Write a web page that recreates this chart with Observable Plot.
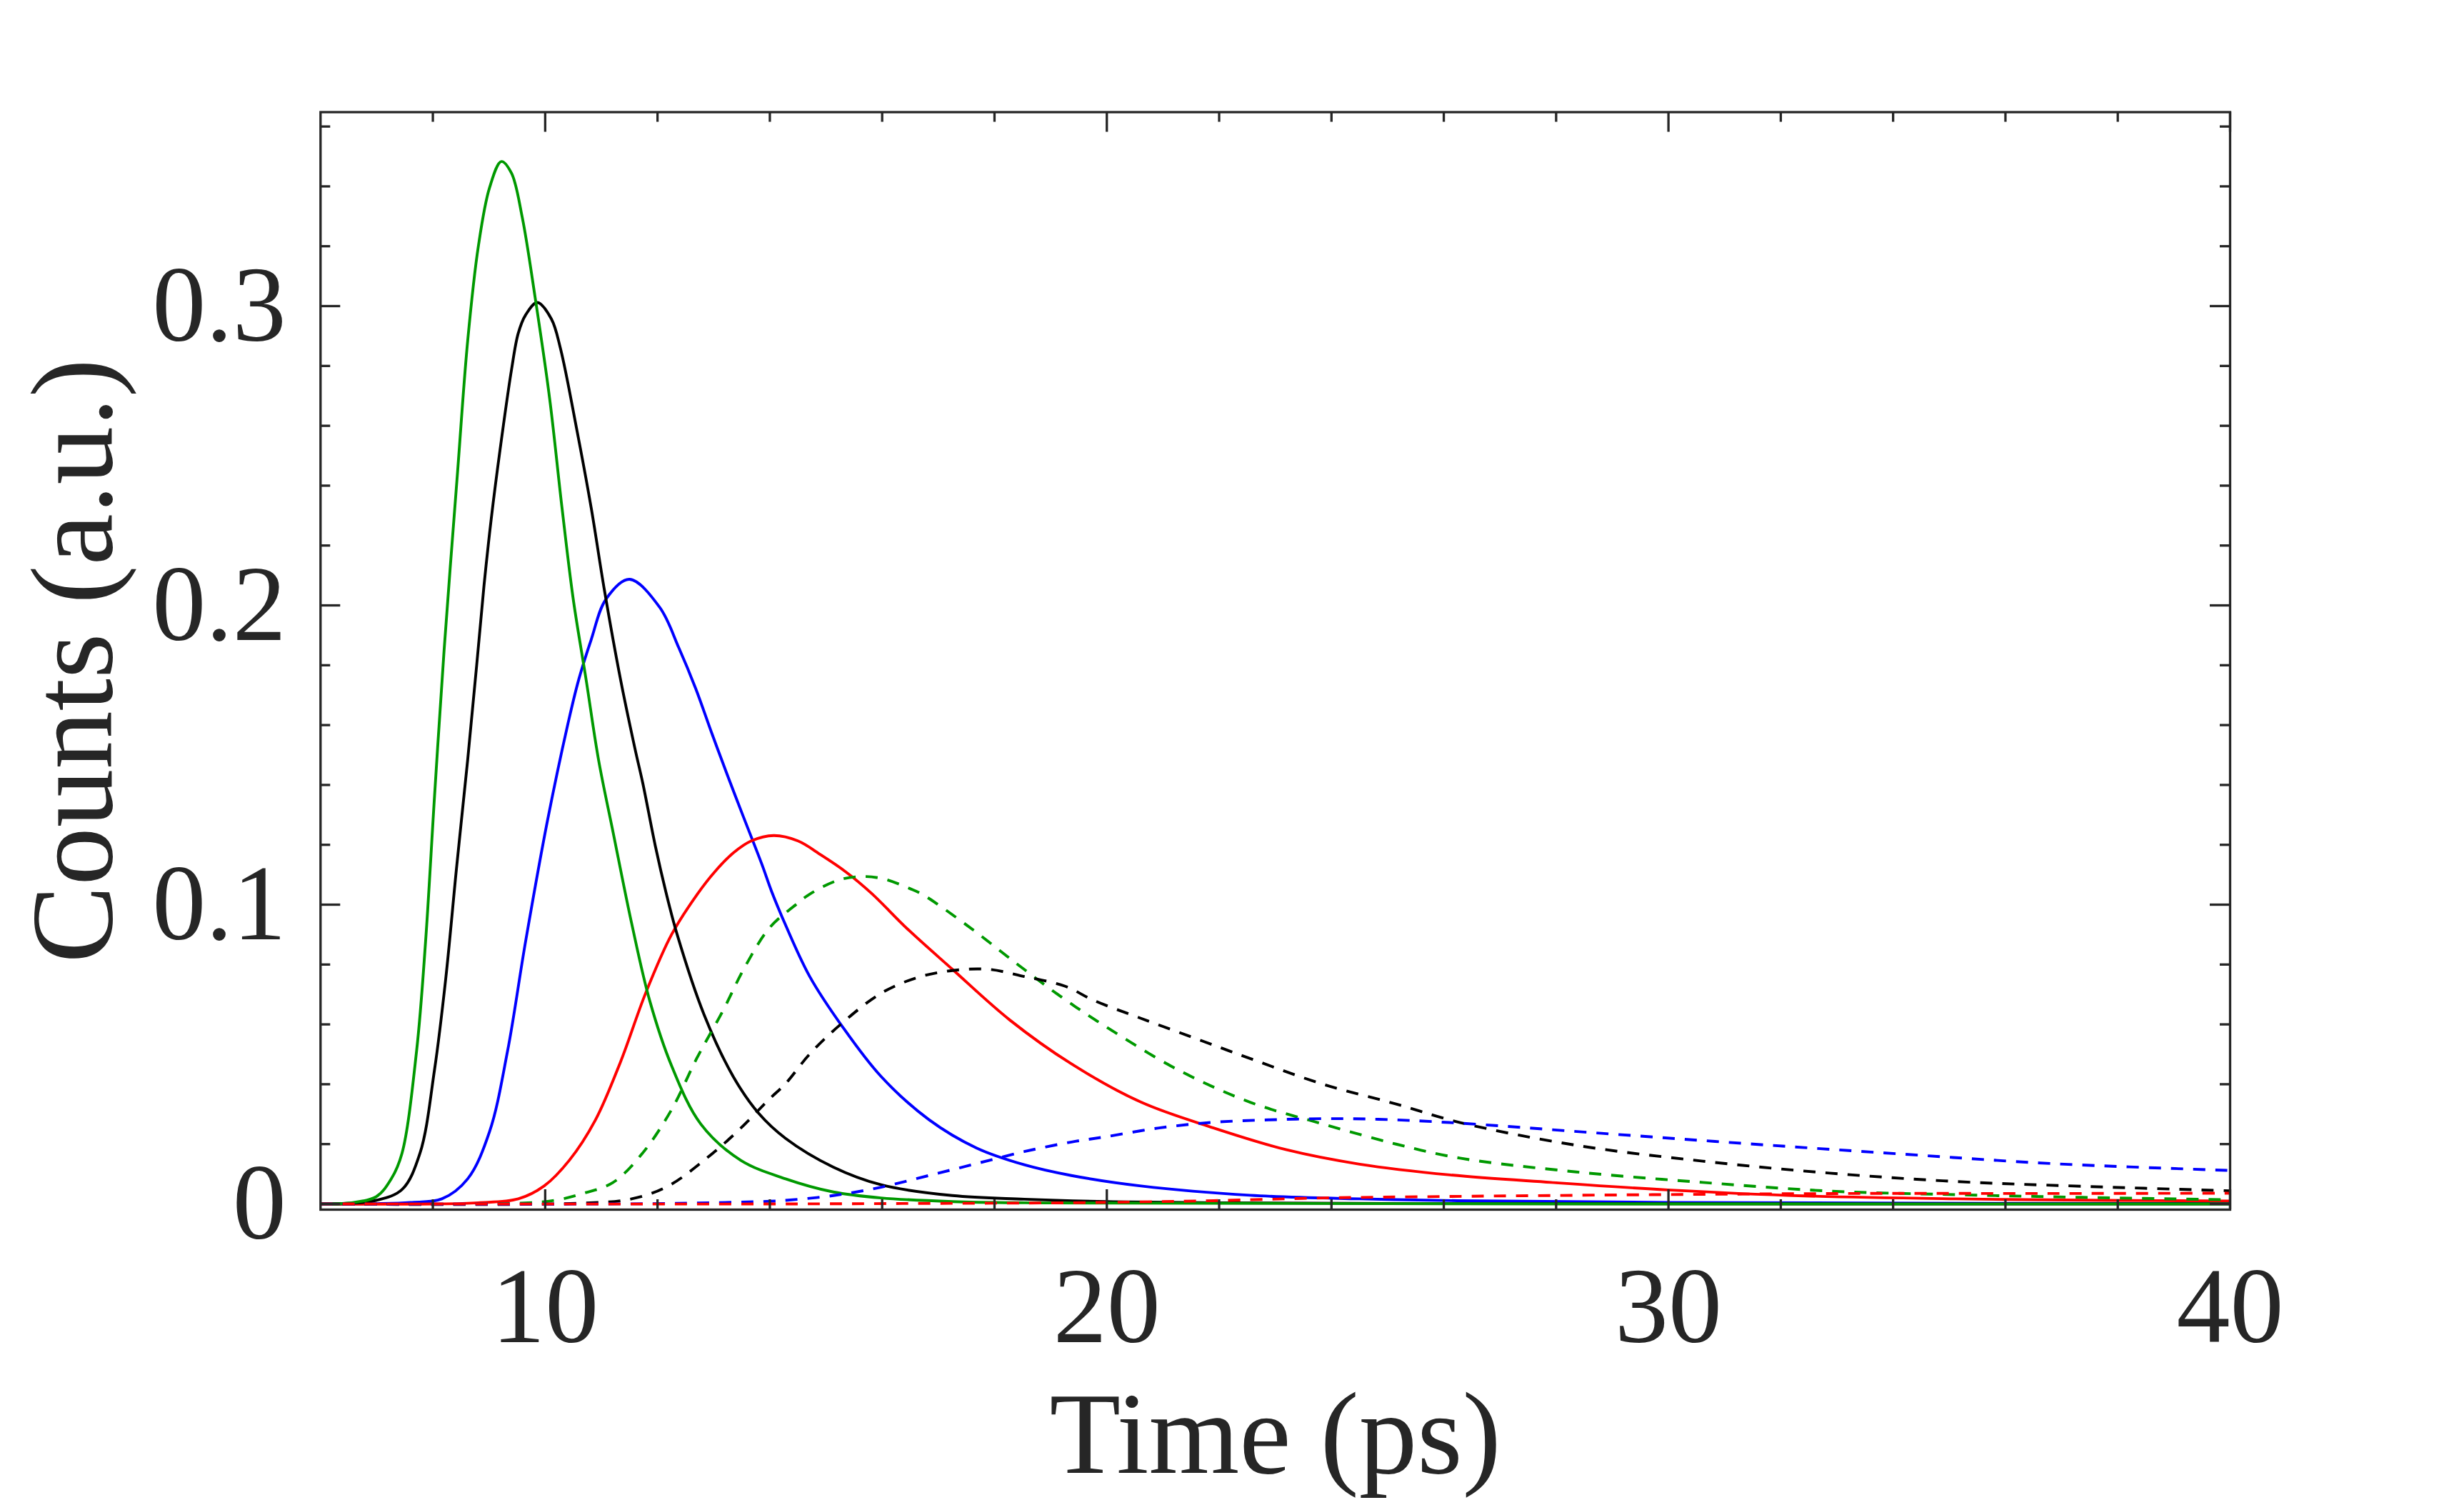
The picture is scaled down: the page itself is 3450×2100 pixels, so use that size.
<!DOCTYPE html>
<html>
<head>
<meta charset="utf-8">
<script src="https://cdn.jsdelivr.net/npm/d3@7"></script>
<script src="https://cdn.jsdelivr.net/npm/@observablehq/plot@0.6"></script>
<style>
html, body { margin: 0; padding: 0; background: #fff; }
#chart svg { display: block; }
</style>
</head>
<body>
<div id="chart"></div>
<script>
// ---- data ----
const greenSolidT = [6, 6.5, 6.99, 7.26, 7.45, 7.71, 7.87, 8.03, 8.2, 8.44, 8.62, 8.81, 9.01, 9.22, 9.4, 9.59, 9.82, 10.08, 10.3, 10.5, 10.73, 10.95, 11.21, 11.54, 11.86, 12.25, 12.77, 13.48, 14.28, 15.13, 15.98, 17.25, 18.53, 20, 25, 30, 40];
const greenSolidV = [0, 0.0003, 0.0024, 0.0084, 0.0169, 0.0511, 0.0876, 0.1363, 0.185, 0.2446, 0.2884, 0.320, 0.3396, 0.3483, 0.3444, 0.3298, 0.303, 0.269, 0.2325, 0.202, 0.175, 0.1484, 0.1241, 0.0937, 0.068, 0.0462, 0.0267, 0.0146, 0.0084, 0.004, 0.002, 0.0008, 0.0004, 0.0003, 0.0001, 0, 0];

const blackSolidT = [6, 6.5, 6.99, 7.45, 7.77, 8.03, 8.23, 8.42, 8.62, 8.78, 8.91, 9.04, 9.2, 9.4, 9.52, 9.65, 9.86, 10.11, 10.27, 10.56, 10.82, 11.05, 11.34, 11.6, 11.74, 11.96, 12.15, 12.35, 12.83, 13.35, 13.8, 14.28, 15.13, 15.98, 17.25, 18.53, 20, 22, 26, 40];
const blackSolidV = [0, 0.0002, 0.0012, 0.0048, 0.0169, 0.0449, 0.0754, 0.112, 0.1484, 0.180, 0.2065, 0.229, 0.2525, 0.2787, 0.2909, 0.297, 0.3012, 0.2957, 0.286, 0.259, 0.2325, 0.2056, 0.1754, 0.152, 0.1404, 0.1197, 0.1042, 0.090, 0.0632, 0.0425, 0.0303, 0.0219, 0.0123, 0.0064, 0.0028, 0.0016, 0.0008, 0.0004, 0.0001, 0];

const blueSolidT = [6, 7, 7.6, 8.16, 8.62, 9.01, 9.33, 9.65, 10.04, 10.43, 10.6, 10.82, 11.08, 11.5, 12.04, 12.38, 12.68, 12.97, 13.27, 13.52, 13.86, 14.03, 14.28, 14.71, 15.29, 15.98, 16.83, 17.68, 18.53, 19.37, 20.61, 22.55, 24.5, 26.24, 30, 40];
const blueSolidV = [0, 0.0001, 0.0005, 0.0017, 0.0084, 0.0242, 0.0511, 0.0876, 0.128, 0.1625, 0.1754, 0.1886, 0.202, 0.2087, 0.1993, 0.1858, 0.1722, 0.1571, 0.142, 0.1298, 0.1134, 0.1045, 0.0932, 0.076, 0.0593, 0.0426, 0.0282, 0.0187, 0.0131, 0.0095, 0.006, 0.0029, 0.0017, 0.0011, 0.0005, 0.0001];

const redSolidT = [6, 8, 8.81, 9.52, 9.98, 10.43, 10.89, 11.34, 11.79, 12.25, 12.72, 13.02, 13.35, 13.67, 14.07, 14.5, 14.92, 15.35, 15.81, 16.45, 17.25, 18.27, 19.37, 20.61, 21.9, 23.2, 24.5, 26.11, 27.91, 29.98, 32.41, 35.12, 37.81, 40];
const redSolidV = [0, 0, 0.0004, 0.0017, 0.006, 0.0146, 0.0279, 0.0474, 0.0705, 0.090, 0.1038, 0.111, 0.1173, 0.1213, 0.1231, 0.1213, 0.1165, 0.111, 0.1038, 0.0919, 0.0784, 0.0615, 0.0468, 0.034, 0.0254, 0.0181, 0.0133, 0.0097, 0.0072, 0.0047, 0.0027, 0.0017, 0.0012, 0.001];

const greenDashT = [6, 9.5, 10.17, 10.69, 11.21, 11.73, 12.25, 12.7, 13.16, 13.55, 14.0, 14.45, 14.71, 15.22, 15.64, 16.03, 16.49, 16.72, 17.56, 18.4, 19.18, 19.96, 21.26, 22.55, 23.85, 25.15, 26.29, 28.36, 30.61, 32.87, 35.12, 37.37, 40];
const greenDashV = [0, 0.0002, 0.0012, 0.0036, 0.0072, 0.0169, 0.0315, 0.0487, 0.0644, 0.079, 0.0924, 0.0998, 0.1035, 0.1082, 0.1094, 0.1086, 0.1054, 0.1034, 0.0924, 0.0802, 0.0693, 0.0595, 0.0449, 0.034, 0.0267, 0.020, 0.0153, 0.0107, 0.0072, 0.0043, 0.0031, 0.0022, 0.0014];

const blackDashT = [6, 10.56, 11.54, 12.19, 12.83, 13.42, 14.0, 14.28, 14.71, 15.26, 15.98, 16.62, 17.25, 17.89, 18.53, 19.25, 19.77, 20.61, 21.58, 22.55, 23.85, 25.15, 26.29, 28.36, 30.61, 32.87, 35.12, 37.37, 40];
const blackDashV = [0, 0.0002, 0.0017, 0.006, 0.0146, 0.0242, 0.0352, 0.0402, 0.0501, 0.060, 0.0704, 0.0756, 0.078, 0.0784, 0.076, 0.0728, 0.068, 0.062, 0.0553, 0.0486, 0.040, 0.0334, 0.0272, 0.0196, 0.0143, 0.0103, 0.0075, 0.0059, 0.0044];

const blueDashT = [6, 11.86, 14.0, 14.28, 15.13, 15.98, 16.83, 17.68, 18.53, 19.37, 19.96, 20.93, 21.9, 22.88, 23.85, 24.83, 26.1, 28.81, 31.51, 34.21, 36.92, 40];
const blueDashV = [0, 0.0001, 0.0009, 0.0012, 0.0028, 0.0056, 0.0095, 0.0135, 0.0175, 0.0207, 0.0224, 0.0254, 0.0273, 0.0281, 0.0285, 0.0283, 0.0272, 0.0236, 0.020, 0.0166, 0.0134, 0.0112];

const redDashT = [6, 14, 17, 19.4, 20.6, 21.9, 23.85, 26.06, 29.71, 33.31, 36.9, 40];
const redDashV = [0, 0, 0.0002, 0.0004, 0.0007, 0.0011, 0.002, 0.0025, 0.0031, 0.0035, 0.0035, 0.0036];

const xMajorTicks = [10, 20, 30, 40];
const xMinorTicks = [8, 12, 14, 16, 18, 22, 24, 26, 28, 32, 34, 36, 38];
const yMajorTicks = [0, 0.1, 0.2, 0.3];
const yMinorTicks = [0.02, 0.04, 0.06, 0.08, 0.12, 0.14, 0.16, 0.18, 0.22, 0.24, 0.26, 0.28, 0.32, 0.34, 0.36];
const xLabel = "Time (ps)";
const yLabel = "Counts (a.u.)";

// ---- layout & style ----
const W = 3450, H = 2100;
const mL = 448.3, mR = 328, mT = 156.5, mB = 407;
const pw = W - mL - mR, ph = H - mT - mB;
const axisColor = "#262626";
const font = "Liberation Serif, Times New Roman, serif";
const majorLen = 28, minorLen = 14, tickW = 3.3;
const dash = "17,14";

const seriesList = [
  {name: "blueSolid", t: blueSolidT, v: blueSolidV, color: "#0000ff", dash: null},
  {name: "redSolid", t: redSolidT, v: redSolidV, color: "#ff0000", dash: null},
  {name: "blackSolid", t: blackSolidT, v: blackSolidV, color: "#000000", dash: null},
  {name: "greenSolid", t: greenSolidT, v: greenSolidV, color: "#009900", dash: null},
  {name: "greenDash", t: greenDashT, v: greenDashV, color: "#009900", dash: dash},
  {name: "blackDash", t: blackDashT, v: blackDashV, color: "#000000", dash: dash},
  {name: "blueDash", t: blueDashT, v: blueDashV, color: "#0000ff", dash: dash},
  {name: "redDash", t: redDashT, v: redDashV, color: "#ff0000", dash: dash}
];

const lineMarks = seriesList.map(s => Plot.line(
  s.t.map((t, i) => ({t, v: s.v[i]})),
  {x: "t", y: "v", stroke: s.color, strokeWidth: 3.9, strokeDasharray: s.dash,
   strokeLinecap: "butt", strokeLinejoin: "round", curve: "catmull-rom", clip: "frame"}
));

const tickStyle = {stroke: axisColor, strokeWidth: tickW};

const chart = Plot.plot({
  width: W,
  height: H,
  marginLeft: mL,
  marginRight: mR,
  marginTop: mT,
  marginBottom: mB,
  style: {fontFamily: font, background: "#fff"},
  x: {domain: [6, 40]},
  y: {domain: [-0.0019, 0.3648]},
  marks: [
    ...lineMarks,
    // inward ticks: left / right
    Plot.tickY(yMajorTicks, {...tickStyle, insetRight: pw - majorLen}),
    Plot.tickY(yMinorTicks, {...tickStyle, insetRight: pw - minorLen}),
    Plot.tickY(yMajorTicks, {...tickStyle, insetLeft: pw - majorLen}),
    Plot.tickY(yMinorTicks, {...tickStyle, insetLeft: pw - minorLen}),
    // inward ticks: bottom / top
    Plot.tickX(xMajorTicks, {...tickStyle, insetTop: ph - majorLen}),
    Plot.tickX(xMinorTicks, {...tickStyle, insetTop: ph - minorLen}),
    Plot.tickX(xMajorTicks, {...tickStyle, insetBottom: ph - majorLen}),
    Plot.tickX(xMinorTicks, {...tickStyle, insetBottom: ph - minorLen}),
    Plot.frame({stroke: axisColor, strokeWidth: tickW}),
    Plot.axisX({ticks: xMajorTicks, tickSize: 0, tickPadding: 78.5, label: null,
      tickFormat: d => String(d), fontSize: 150, fontFamily: font, fill: axisColor}),
    Plot.axisY({ticks: yMajorTicks, tickSize: 0, tickPadding: 48, label: null,
      tickFormat: d => String(d), fontSize: 150, fontFamily: font, fill: axisColor}),
    Plot.text([xLabel], {text: d => d, frameAnchor: "bottom", dy: 368, lineAnchor: "bottom",
      textAnchor: "middle", fontSize: 163, fontFamily: font, fill: axisColor}),
    Plot.text([yLabel], {text: d => d, frameAnchor: "left", dx: -293, rotate: -90, lineAnchor: "bottom",
      textAnchor: "middle", fontSize: 163, fontFamily: font, fill: axisColor})
  ]
});

document.getElementById("chart").appendChild(chart);
</script>
</body>
</html>
